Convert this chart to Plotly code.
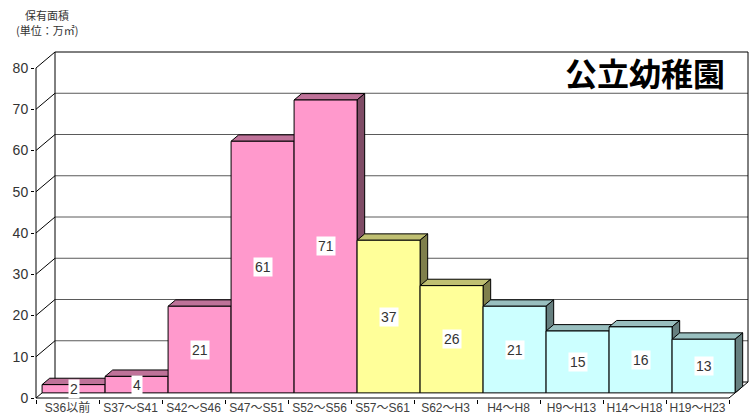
import plotly.graph_objects as go

# Floor area held by public kindergartens, by construction period (unit: 10,000 m2)
categories = ["S36以前", "S37～S41", "S42～S46", "S47～S51", "S52～S56", "S57～S61",
              "S62～H3", "H4～H8", "H9～H13", "H14～H18", "H19～H23"]
values = [2, 4, 21, 61, 71, 37, 26, 21, 15, 16, 13]
period_colors = ["#FF99CC"] * 5 + ["#FFFF99"] * 2 + ["#CCFFFF"] * 4
y_ticks = [0, 10, 20, 30, 40, 50, 60, 70, 80]

# Oblique depth of the 3-D box, in data units (x: categories, y: value)
DX = 19 / 63
DY = 16 / 4.125
F_FRONT = 0.32   # depth of bar front faces
F_BACK = 0.72    # depth of bar back faces
Y_MAX = y_ticks[-1]
N = len(categories)

FONT = "Liberation Sans, Arial, Noto Sans CJK JP, sans-serif"


def shade(hex_color, k):
    h = hex_color.lstrip("#")
    r, g, b = (int(h[i:i + 2], 16) for i in (0, 2, 4))
    return "#%02X%02X%02X" % (int(r * k), int(g * k), int(b * k))


fig = go.Figure()


def add_line(xs, ys, color="black", width=1):
    fig.add_trace(go.Scatter(x=xs, y=ys, mode="lines",
                             line=dict(color=color, width=width),
                             hoverinfo="skip", showlegend=False))


def add_poly(xs, ys, fill):
    fig.add_trace(go.Scatter(x=xs + [xs[0]], y=ys + [ys[0]], mode="lines",
                             fill="toself", fillcolor=fill,
                             line=dict(color="black", width=1),
                             hoverinfo="skip", showlegend=False))


# Back wall gridlines
gx, gy = [], []
for v in y_ticks[1:-1]:
    gx += [DX, N + DX, None]
    gy += [v + DY, v + DY, None]
add_line(gx, gy, color="#5A5A5A")

# Box frame: side-wall diagonals, back wall edges, floor, front value axis
fx, fy = [], []
for v in y_ticks:
    fx += [0, DX, None]
    fy += [v, v + DY, None]
fx += [DX, N + DX, None, DX, DX, None, N + DX, N + DX, None, 0, 0, None,
       0, N, N + DX, None, DX, N + DX, None]
fy += [Y_MAX + DY, Y_MAX + DY, None, DY, Y_MAX + DY, None, DY, Y_MAX + DY, None, 0, Y_MAX, None,
       0, 0, DY, None, DY, DY, None]
add_line(fx, fy)

# Bars: top, right side and front faces, drawn left to right
for i, (v, col) in enumerate(zip(values, period_colors)):
    x0, x1 = i, i + 1
    fxo, fyo = F_FRONT * DX, F_FRONT * DY
    bxo, byo = F_BACK * DX, F_BACK * DY
    add_poly([x0 + fxo, x1 + fxo, x1 + bxo, x0 + bxo],
             [v + fyo, v + fyo, v + byo, v + byo], shade(col, 0.75))
    add_poly([x1 + fxo, x1 + bxo, x1 + bxo, x1 + fxo],
             [fyo, byo, v + byo, v + fyo], shade(col, 0.5))
    add_poly([x0 + fxo, x1 + fxo, x1 + fxo, x0 + fxo],
             [fyo, fyo, v + fyo, v + fyo], col)

# Value labels centred on each front face
for i, v in enumerate(values):
    fig.add_annotation(x=i + 0.5 + F_FRONT * DX, y=v / 2 + F_FRONT * DY,
                       text=str(v), showarrow=False, bgcolor="white", borderpad=1,
                       font=dict(family=FONT, size=14, color="#333333"))

# Chart title inside the plot
fig.add_annotation(xref="paper", yref="paper", x=0.853, y=0.937,
                   xanchor="center", yanchor="middle",
                   text="<b>公立幼稚園</b>", showarrow=False,
                   font=dict(family="Noto Sans CJK JP", size=32, color="black"))

# Value axis title (two lines)
fig.add_annotation(xref="paper", yref="paper", x=0.0168, y=1.101,
                   xanchor="center", yanchor="middle",
                   text="保有面積", showarrow=False,
                   font=dict(family="Noto Sans CJK JP", size=11, color="#333333"))
fig.add_annotation(xref="paper", yref="paper", x=0.0168, y=1.058,
                   xanchor="center", yanchor="middle",
                   text="(単位：万㎡)", showarrow=False,
                   font=dict(family="Noto Sans CJK JP", size=11, color="#333333"))

fig.update_layout(
    width=754, height=419,
    margin=dict(l=35, r=4, t=50, b=20),
    paper_bgcolor="white", plot_bgcolor="white",
    hovermode=False, showlegend=False,
    xaxis=dict(range=[-1 / 63, 714 / 63], showgrid=False, zeroline=False, showline=False,
               tickmode="array", tickvals=[i + 0.5 for i in range(N)], ticktext=categories,
               ticks="", tickfont=dict(family=FONT, size=12, color="#404040"),
               minor=dict(tickmode="array", tickvals=list(range(N + 1)), ticks="outside",
                          ticklen=4, tickcolor="black", tickwidth=1),
               automargin=False, fixedrange=True),
    yaxis=dict(range=[-1 / 4.125, 348 / 4.125], showgrid=False, zeroline=False, showline=False,
               tickmode="array", tickvals=y_ticks, ticks="outside", ticklen=3,
               tickcolor="black", tickfont=dict(family=FONT, size=14, color="#333333"),
               automargin=False, fixedrange=True),
)

fig.write_html("out.html")
